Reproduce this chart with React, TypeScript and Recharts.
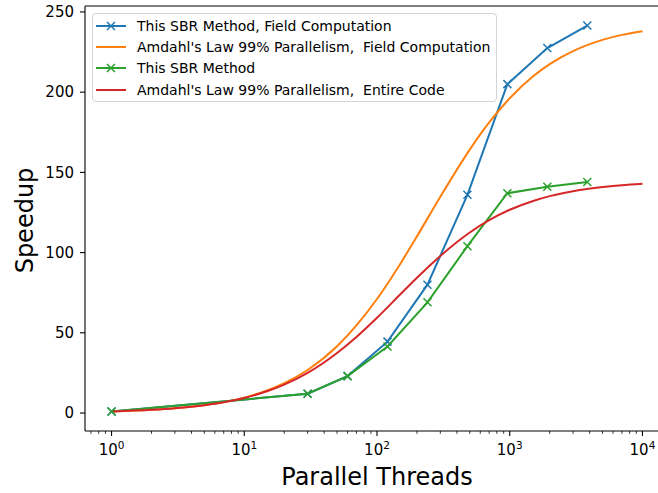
import { Line, LineChart, ReferenceLine, XAxis, YAxis } from "recharts";

// measured speedups (markers)
const threads = [1, 30, 60, 120, 240, 480, 960, 1920, 3840];
const sbrField = [1, 12, 23, 44.5, 80, 136, 205, 227.5, 241.5];
const sbrTotal = [1, 12, 23, 41.5, 69, 104, 137, 141, 144];

// Amdahl reference curves
const amdahlThreads = [
  1, 2, 3, 5, 7, 10, 15, 20, 30, 50, 70, 100, 150, 200, 300, 500, 700, 1000,
  1500, 2000, 3000, 5000, 7000, 10000,
];
const amdahlField = [
  1, 2.0, 3.0, 4.9, 6.8, 9.6, 14.2, 18.6, 26.8, 41.6, 54.6, 71.1, 93.1, 110.1,
  134.8, 164.2, 181.1, 196.2, 209.9, 217.5, 225.6, 232.6, 235.7, 238.0,
];
const amdahlEntire = [
  1, 2.0, 3.0, 4.9, 6.7, 9.4, 13.7, 17.7, 25.0, 37.4, 47.4, 59.4, 74.0, 84.3,
  97.9, 112.5, 120.2, 126.7, 132.2, 135.2, 138.3, 140.9, 142.0, 142.9,
];

const xMajorTicks = [1, 10, 100, 1000, 10000];
const xTickExponents = ["0", "1", "2", "3", "4"];
const yTicks = [0, 50, 100, 150, 200, 250];

const legendLabels = [
  "This SBR Method, Field Computation",
  "Amdahl's Law 99% Parallelism,  Field Computation",
  "This SBR Method",
  "Amdahl's Law 99% Parallelism,  Entire Code",
];

const FONT = "'DejaVu Sans', sans-serif";
const BLUE = "#1f77b4";
const ORANGE = "#ff7f0e";
const GREEN = "#2ca02c";
const RED = "#d62728";

const X_MIN = 0.631;
const X_MAX = 15849;
const Y_MIN = -11.2;
const Y_MAX = 253.7;

const zip = (xs: number[], ys: number[]) => xs.map((x, i) => ({ x, y: ys[i] }));

// log minor ticks 2..9 in each decade, kept inside the axis range
const minorTicks = [0.1, ...xMajorTicks]
  .flatMap((d) => [2, 3, 4, 5, 6, 7, 8, 9].map((k) => d * k))
  .filter((v) => v >= X_MIN && v <= X_MAX);
const allXTicks = [...xMajorTicks, ...minorTicks].sort((a, b) => a - b);

function XMark(props: any) {
  const { cx, cy, stroke } = props;
  if (cx == null || cy == null) return null;
  const r = 4;
  return (
    <path
      d={`M${cx - r},${cy - r}L${cx + r},${cy + r}M${cx - r},${cy + r}L${cx + r},${cy - r}`}
      stroke={stroke}
      strokeWidth={1.5}
      fill="none"
    />
  );
}

function LogTick(props: any) {
  const { x, y, payload } = props;
  const idx = xMajorTicks.indexOf(payload.value);
  const major = idx >= 0;
  return (
    <g>
      <line
        x1={x}
        x2={x}
        y1={y}
        y2={y + (major ? 5 : 2.8)}
        stroke="#000"
        strokeWidth={major ? 1.1 : 0.8}
      />
      {major && (
        <text
          x={x}
          y={y + 24}
          textAnchor="middle"
          fontFamily={FONT}
          fontSize={15}
          fill="#000"
        >
          <tspan>10</tspan>
          <tspan dy={-6.5} fontSize={10.5}>
            {xTickExponents[idx]}
          </tspan>
        </text>
      )}
    </g>
  );
}

function XTitle(props: any) {
  const vb = props.viewBox;
  return (
    <text
      x={vb.x + vb.width / 2}
      y={vb.y + 54}
      textAnchor="middle"
      fontFamily={FONT}
      fontSize={24}
      fill="#000"
    >
      Parallel Threads
    </text>
  );
}

function YTitle(props: any) {
  const vb = props.viewBox;
  const cx = vb.x + 33;
  const cy = vb.y + vb.height / 2 + 2;
  return (
    <text
      x={cx}
      y={cy}
      transform={`rotate(-90, ${cx}, ${cy})`}
      textAnchor="middle"
      fontFamily={FONT}
      fontSize={24}
      fill="#000"
    >
      Speedup
    </text>
  );
}

function LegendBox() {
  const colors = [BLUE, ORANGE, GREEN, RED];
  const marked = [true, false, true, false];
  return (
    <div
      style={{
        position: "absolute",
        left: 92,
        top: 13,
        width: 405,
        height: 89,
        boxSizing: "border-box",
        border: "1px solid #d4d4d4",
        borderRadius: 4,
        background: "rgba(255,255,255,0.8)",
        fontFamily: FONT,
        fontSize: 14,
        color: "#000",
      }}
    >
      {legendLabels.map((label, i) => (
        <div
          key={label}
          style={{
            position: "absolute",
            left: 0,
            top: 11.5 + i * 21.4 - 10,
            height: 20,
            display: "flex",
            alignItems: "center",
            whiteSpace: "pre",
          }}
        >
          <svg width={30} height={12} style={{ marginLeft: 3 }}>
            <line x1={0} x2={30} y1={6} y2={6} stroke={colors[i]} strokeWidth={2} />
            {marked[i] && (
              <path d="M11,2L19,10M11,10L19,2" stroke={colors[i]} strokeWidth={1.5} />
            )}
          </svg>
          <span style={{ marginLeft: 11 }}>{label}</span>
        </div>
      ))}
    </div>
  );
}

export default function App() {
  return (
    <div
      style={{
        position: "fixed",
        left: 0,
        top: 0,
        width: 658,
        height: 493,
        overflow: "hidden",
        background: "#fff",
      }}
    >
      <LineChart
        width={680}
        height={493}
        margin={{ top: 6, right: 11, bottom: 0, left: 0 }}
      >
        <XAxis
          dataKey="x"
          type="number"
          scale="log"
          domain={[X_MIN, X_MAX]}
          allowDataOverflow
          ticks={allXTicks}
          interval={0}
          tick={<LogTick />}
          tickLine={false}
          tickSize={0}
          tickMargin={0}
          axisLine={{ stroke: "#000", strokeWidth: 1.1 }}
          height={62}
          label={<XTitle />}
        />
        <YAxis
          type="number"
          domain={[Y_MIN, Y_MAX]}
          allowDataOverflow
          ticks={yTicks}
          interval={0}
          width={85}
          tickSize={5}
          tickMargin={6}
          tick={{ fill: "#000", fontSize: 15, fontFamily: FONT }}
          tickLine={{ stroke: "#000", strokeWidth: 1.1 }}
          axisLine={{ stroke: "#000", strokeWidth: 1.1 }}
          label={<YTitle />}
        />
        <ReferenceLine y={Y_MAX} stroke="#000" strokeWidth={1.1} />
        <ReferenceLine x={X_MAX} stroke="#000" strokeWidth={1.1} />
        <Line
          data={zip(threads, sbrField)}
          dataKey="y"
          type="linear"
          stroke={BLUE}
          strokeWidth={2}
          dot={<XMark />}
          activeDot={false}
          isAnimationActive={false}
        />
        <Line
          data={zip(amdahlThreads, amdahlField)}
          dataKey="y"
          type="monotone"
          stroke={ORANGE}
          strokeWidth={2}
          dot={false}
          activeDot={false}
          isAnimationActive={false}
        />
        <Line
          data={zip(threads, sbrTotal)}
          dataKey="y"
          type="linear"
          stroke={GREEN}
          strokeWidth={2}
          dot={<XMark />}
          activeDot={false}
          isAnimationActive={false}
        />
        <Line
          data={zip(amdahlThreads, amdahlEntire)}
          dataKey="y"
          type="monotone"
          stroke={RED}
          strokeWidth={2}
          dot={false}
          activeDot={false}
          isAnimationActive={false}
        />
      </LineChart>
      <LegendBox />
    </div>
  );
}
